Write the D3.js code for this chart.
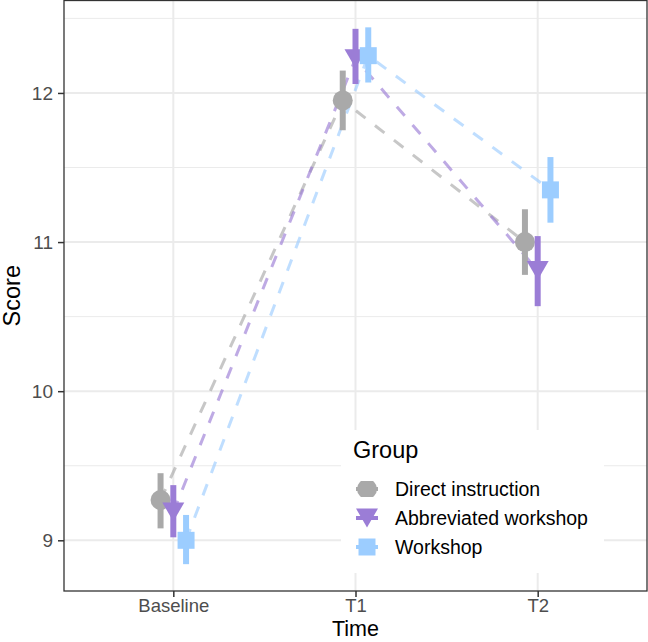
<!DOCTYPE html>
<html>
<head>
<meta charset="utf-8">
<script src="https://cdn.jsdelivr.net/npm/d3@7"></script>
<style>
	body { margin: 0; background: #fff; }
	svg { display: block; font-family: "Liberation Sans", Arial, sans-serif; }
</style>
</head>
<body>
<script>
(function() {

"use strict";

const TIMES = ["Baseline", "T1", "T2"];
const GROUPS = ["Direct instruction", "Abbreviated workshop", "Workshop"];

// mean and interval per time point
const DIRECT_MEAN = [9.27, 11.95, 11.00];
const DIRECT_LOW  = [9.08, 11.75, 10.78];
const DIRECT_HIGH = [9.45, 12.15, 11.22];

const ABBREV_MEAN = [9.19, 12.23, 10.81];
const ABBREV_LOW  = [9.02, 12.06, 10.57];
const ABBREV_HIGH = [9.37, 12.43, 11.04];

const WORKSHOP_MEAN = [9.00, 12.25, 11.35];
const WORKSHOP_LOW  = [8.84, 12.07, 11.13];
const WORKSHOP_HIGH = [9.17, 12.44, 11.57];

const Y_TICKS = [9, 10, 11, 12];
const Y_MINOR = [9.5, 10.5, 11.5, 12.5];

const COLORS = ["#a9a9a9", "#9b7dd6", "#9ccdff"];
const SHAPES = ["circle", "triangle", "square"];

const width = 648, height = 642;
const margin = {top: 0.5, right: 1, bottom: 51, left: 64};

let series = [
	[DIRECT_MEAN, DIRECT_LOW, DIRECT_HIGH],
	[ABBREV_MEAN, ABBREV_LOW, ABBREV_HIGH],
	[WORKSHOP_MEAN, WORKSHOP_LOW, WORKSHOP_HIGH],
].map(([mean, low, high], g) => ({
	group: GROUPS[g],
	color: COLORS[g],
	shape: SHAPES[g],
	offset: (g - 1) * 0.07,
	values: TIMES.map((time, i) => ({time, mean: mean[i], low: low[i], high: high[i]})),
}));

let lo = d3.min(series, s => d3.min(s.values, d => d.low));
let hi = d3.max(series, s => d3.max(s.values, d => d.high));
let pad = (hi - lo) * 0.05;

let scale = {
	x: d3.scalePoint().domain(TIMES).range([margin.left, width - margin.right]).padding(0.6),
	y: d3.scaleLinear().domain([lo - pad, hi + pad]).range([height - margin.bottom, margin.top]),
};
let step = scale.x.step();
let px = (d, s) => scale.x(d.time) + s.offset * step;

let svg = d3.select(document.body).append("svg")
	.attr("width", width)
	.attr("height", height);

// grid
let grid = svg.append("g").attr("class", "grid").attr("stroke", "#ebebeb");
grid.selectAll(".minor").data(Y_MINOR).join("line")
	.attr("x1", margin.left).attr("x2", width - margin.right)
	.attr("y1", d => scale.y(d)).attr("y2", d => scale.y(d))
	.attr("stroke-width", 1);
grid.selectAll(".major").data(Y_TICKS).join("line")
	.attr("x1", margin.left).attr("x2", width - margin.right)
	.attr("y1", d => scale.y(d)).attr("y2", d => scale.y(d))
	.attr("stroke-width", 2);
grid.selectAll(".vert").data(TIMES).join("line")
	.attr("x1", d => scale.x(d)).attr("x2", d => scale.x(d))
	.attr("y1", margin.top).attr("y2", height - margin.bottom)
	.attr("stroke-width", 2);

// dashed lines
let line = d3.line()
	.x(d => d.x)
	.y(d => scale.y(d.mean));

svg.append("g").attr("class", "lines")
	.selectAll("path").data(series).join("path")
		.attr("d", s => line(s.values.map(d => ({x: px(d, s), mean: d.mean}))))
		.attr("fill", "none")
		.attr("stroke", s => s.color)
		.attr("stroke-opacity", 0.65)
		.attr("stroke-width", 3)
		.attr("stroke-dasharray", "12,12");

function shapePath(shape) {
	if (shape === "circle")
		return d3.symbol(d3.symbolCircle, Math.PI * 100)();
	if (shape === "triangle")
		return "M-11,-9.5L11,-9.5L0,9.5Z";
	return "M-8.5,-8.5H8.5V8.5H-8.5Z";
}

// error bars and points
let marks = svg.append("g").attr("class", "marks");
for (let s of series) {
	let g = marks.append("g");
	g.selectAll("line").data(s.values).join("line")
		.attr("x1", d => px(d, s)).attr("x2", d => px(d, s))
		.attr("y1", d => scale.y(d.low)).attr("y2", d => scale.y(d.high))
		.attr("stroke", s.color)
		.attr("stroke-width", 6);
	g.selectAll("path").data(s.values).join("path")
		.attr("transform", d => `translate(${px(d, s)},${scale.y(d.mean)})`)
		.attr("d", shapePath(s.shape))
		.attr("fill", s.color);
}

// panel border
svg.append("rect")
	.attr("x", margin.left).attr("y", margin.top)
	.attr("width", width - margin.right - margin.left)
	.attr("height", height - margin.bottom - margin.top)
	.attr("fill", "none")
	.attr("stroke", "#333")
	.attr("stroke-width", 1.3);

// axes
let yAxis = svg.append("g")
	.attr("transform", `translate(${margin.left},0)`)
	.call(d3.axisLeft(scale.y).tickValues(Y_TICKS).tickFormat(d3.format("d")).tickSize(6).tickPadding(5));
let xAxis = svg.append("g")
	.attr("transform", `translate(0,${height - margin.bottom})`)
	.call(d3.axisBottom(scale.x).tickSize(6).tickPadding(2));

for (let axis of [xAxis, yAxis]) {
	axis.select(".domain").remove();
	axis.selectAll(".tick line").attr("stroke", "#333").attr("stroke-width", 1.5);
	axis.selectAll(".tick text")
		.attr("fill", "#4d4d4d")
		.attr("font-size", 19)
		.attr("font-family", "Liberation Sans, Arial, sans-serif");
}
xAxis.selectAll(".tick text").attr("font-size", 18.5);
yAxis.selectAll(".tick text").attr("x", -11);

svg.append("text")
	.attr("x", (margin.left + width - margin.right) / 2)
	.attr("y", 636)
	.attr("text-anchor", "middle")
	.attr("font-size", 21.5)
	.text("Time");

svg.append("text")
	.attr("transform", `translate(20,${(margin.top + height - margin.bottom) / 2}) rotate(-90)`)
	.attr("text-anchor", "middle")
	.attr("font-size", 23.5)
	.text("Score");

// legend
let legend = svg.append("g").attr("class", "legend");
legend.append("rect")
	.attr("x", 341).attr("y", 430)
	.attr("width", 263).attr("height", 143)
	.attr("fill", "#fff");
legend.append("text")
	.attr("x", 353).attr("y", 458)
	.attr("font-size", 23.5)
	.text("Group");

let defs = svg.append("defs");
defs.append("clipPath").attr("id", "keyclip")
	.append("rect").attr("x", -12).attr("y", -8).attr("width", 24).attr("height", 16);

let keys = legend.selectAll(".key").data(series).join("g")
	.attr("class", "key")
	.attr("transform", (s, i) => `translate(367,${489 + i * 29})`);
keys.append("line")
	.attr("x1", -11).attr("x2", 11)
	.attr("stroke", s => s.color)
	.attr("stroke-width", 4);
keys.append("path")
	.attr("d", s => shapePath(s.shape))
	.attr("clip-path", s => s.shape === "circle" ? "url(#keyclip)" : null)
	.attr("fill", s => s.color);
keys.append("text")
	.attr("x", 28).attr("y", 6.5)
	.attr("font-size", 19.5)
	.text(s => s.group);

})();
</script>
</body>
</html>
